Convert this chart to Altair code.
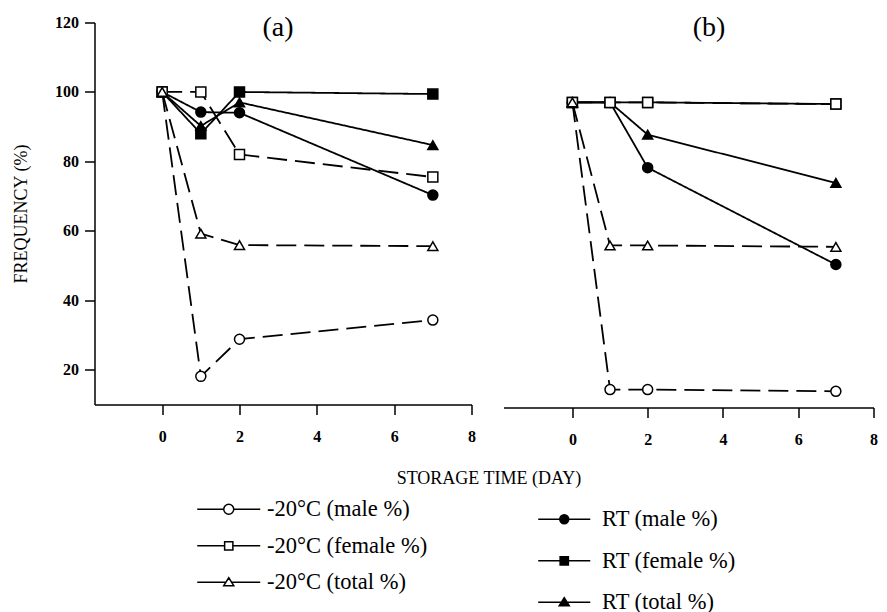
import altair as alt
import pandas as pd

# ---------------- data ----------------
days = [0, 1, 2, 7]

series_names = ["-20°C (male %)", "-20°C (female %)", "-20°C (total %)",
                "RT (male %)", "RT (female %)", "RT (total %)"]
cold_labels = series_names[:3]
rt_labels = series_names[3:]

# panel (a)
a_cold_male = [100, 18.1, 28.8, 34.3]
a_cold_female = [100, 100, 82, 75.5]
a_cold_total = [100, 59.2, 55.9, 55.6]
a_rt_male = [100, 94.2, 94, 70.3]
a_rt_female = [100, 88, 100, 99.4]
a_rt_total = [100, 90.2, 97, 84.7]

# panel (b)
b_cold_male = [97, 14.3, 14.3, 13.8]
b_cold_female = [97, 97, 97, 96.5]
b_cold_total = [97, 55.8, 55.8, 55.4]
b_rt_male = [97, 97, 78.2, 50.3]
b_rt_female = [97, 97, 97, 96.5]
b_rt_total = [97, 97, 87.7, 73.8]

x_ticks = [0, 2, 4, 6, 8]
y_ticks = [20, 40, 60, 80, 100, 120]

FONT = "Liberation Serif"


def make_df(values):
    rows = []
    # RT series first so the open (-20 °C) markers are drawn on top
    for idx in [3, 4, 5, 0, 1, 2]:
        for d, v in zip(days, values[idx]):
            rows.append({"day": d, "value": v, "series": series_names[idx]})
    return pd.DataFrame(rows)


df_a = make_df([a_cold_male, a_cold_female, a_cold_total, a_rt_male, a_rt_female, a_rt_total])
df_b = make_df([b_cold_male, b_cold_female, b_cold_total, b_rt_male, b_rt_female, b_rt_total])

shape_scale = alt.Scale(domain=series_names, range=["circle", "square", "triangle-up"] * 2)
fill_scale = alt.Scale(domain=series_names, range=["white"] * 3 + ["black"] * 3)
dash_scale = alt.Scale(domain=series_names, range=[[20, 8]] * 3 + [[1, 0]] * 3)


# legend symbols: a short line with the marker in the middle
def sym_paths(half, r, sq, tri_w, tri_top, tri_bot):
    circle = (f"M{-half},0L{-r},0M{r},0L{half},0"
              f"M{r},0A{r},{r},0,1,1,{-r},0A{r},{r},0,1,1,{r},0Z")
    square = (f"M{-half},0L{-sq},0M{sq},0L{half},0"
              f"M{-sq},{-sq}L{sq},{-sq}L{sq},{sq}L{-sq},{sq}Z")
    cut = tri_w * (-tri_top) / (tri_bot - tri_top)
    tri = (f"M{-half},0L{-cut:.3f},0M{cut:.3f},0L{half},0"
           f"M0,{tri_top}L{tri_w},{tri_bot}L{-tri_w},{tri_bot}Z")
    return [circle, square, tri]


cold_paths = sym_paths(4.2, 0.667, 0.55, 0.667, -0.6, 0.45)
rt_paths = sym_paths(3.47, 0.6, 0.55, 0.667, -0.6, 0.45)


def legend_layer(labels, paths, fill, lx, ly, loff, rpad):
    return alt.Chart(pd.DataFrame({"lab": labels})).transform_filter("false").mark_point(
        filled=False, fill=fill, stroke="black", strokeWidth=1.5, opacity=1
    ).encode(
        shape=alt.Shape(
            "lab:N",
            scale=alt.Scale(domain=labels, range=paths),
            legend=alt.Legend(
                title=None, orient="none", legendX=lx, legendY=ly,
                direction="vertical", symbolSize=225, symbolStrokeWidth=1.5,
                labelFont=FONT, labelFontSize=22.5, labelColor="black",
                labelOffset=loff, rowPadding=rpad, padding=0, labelLimit=400,
            ),
        )
    )


LEFT_W, GAP, RIGHT_W = 377, 32, 370


def panel(df, xdom, ydom, height, width, left_panel):
    if left_panel:
        x_axis = alt.Axis(values=x_ticks, labelFlush=False, labelPadding=14, grid=False,
                          title="(a)", titleFontSize=28, titleX=183, titleY=-369,
                          titleBaseline="alphabetic", titleAlign="center")
        y_axis = alt.Axis(values=y_ticks, title="FREQUENCY (%)", titlePadding=24,
                          titleFontSize=18, labelPadding=6, labelFlush=False, grid=False)
    else:
        x_axis = alt.Axis(values=x_ticks, labelFlush=False, labelPadding=14, grid=False,
                          title="STORAGE TIME (DAY)", titleFontSize=18,
                          titleX=489 - (95 + LEFT_W + GAP), titleY=62,
                          titleBaseline="top", titleAlign="center")
        y_axis = alt.Axis(domain=False, ticks=False, labels=False, grid=False,
                          title="(b)", titleFontSize=28, titleAngle=0,
                          titleX=709 - (95 + LEFT_W + GAP), titleY=13,
                          titleBaseline="alphabetic", titleAlign="center")
    x = alt.X("day:Q", scale=alt.Scale(domain=xdom, nice=False, zero=False), axis=x_axis)
    y = alt.Y("value:Q", scale=alt.Scale(domain=ydom, nice=False, zero=False), axis=y_axis)

    base = alt.Chart(df)
    lines = base.mark_line(color="black", strokeWidth=1.8).encode(
        x=x, y=y,
        strokeDash=alt.StrokeDash("series:N", scale=dash_scale, legend=None),
    )
    points = base.mark_point(filled=True, stroke="black", strokeWidth=1.5, size=100, opacity=1).encode(
        x=x, y=y,
        shape=alt.Shape("series:N", scale=shape_scale, legend=None),
        fill=alt.Fill("series:N", scale=fill_scale, legend=None),
    )
    layers = [lines, points]
    if left_panel:
        layers.append(legend_layer(cold_labels, cold_paths, "white", 123, 475.5, 27, 13.5))
        layers.append(legend_layer(rt_labels, rt_paths, "black", 458.5, 485.5, 26.5, 18.5))
    ch = alt.layer(*layers).resolve_scale(shape="independent")
    return ch.properties(width=width, height=height)


left = panel(df_a, [-1.75, 8], [10, 120], 382, LEFT_W, True)
right = panel(df_b, [-1.83, 8], [9.14, 120], 385, RIGHT_W, False)

chart = alt.hconcat(left, right, spacing=GAP, bounds="flush").configure_view(
    stroke=None
).configure_axis(
    labelFont=FONT, titleFont=FONT, labelColor="black", titleColor="black",
    domainColor="black", tickColor="black", labelFontSize=16, labelFontWeight="bold",
    titleFontWeight="normal", domainWidth=1.5, tickWidth=1.5, tickSize=10,
).properties(padding={"left": 4.5, "top": 5.5, "right": 0, "bottom": 0})

chart.save("out.html", embed_options={"renderer": "svg", "actions": False})
